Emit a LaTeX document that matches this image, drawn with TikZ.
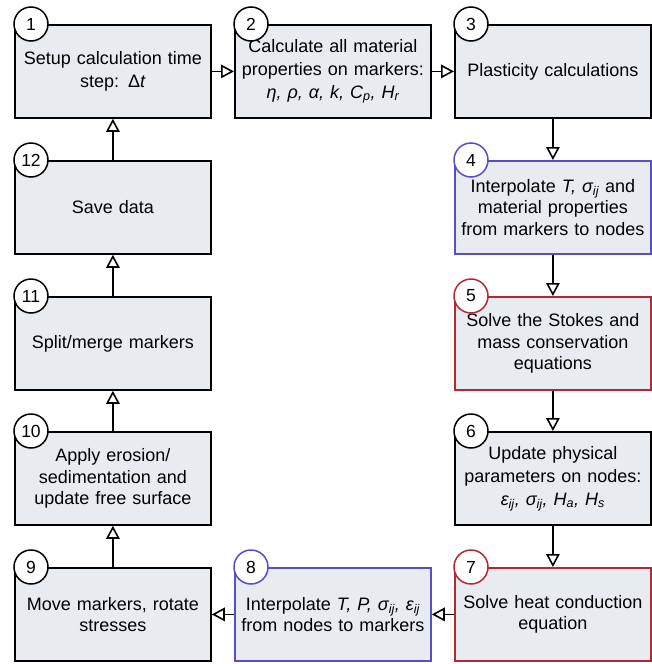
\documentclass[tikz,border=0pt]{standalone}
\usepackage{fontspec}
\setmainfont{Liberation Sans}
\usetikzlibrary{arrows.meta}
\definecolor{boxfill}{RGB}{232,235,240}
\definecolor{bblue}{RGB}{88,78,200}
\definecolor{bred}{RGB}{178,40,52}
\begin{document}
\begin{tikzpicture}[x=1pt,y=-1pt,
  stepbox/.style={draw=#1, fill=boxfill, line width=1.8pt, minimum width=196pt, minimum height=93pt,
    text width=194pt, align=center, inner sep=0pt, font=\fontsize{18}{21.5}\selectfont, anchor=north west},
  stepbox/.default=black,
  numcirc/.style={draw=#1, fill=white, circle, line width=1.5pt, minimum size=34pt, inner sep=0pt,
    font=\fontsize{17.5}{17.5}\selectfont},
  numcirc/.default=black,
  flow/.style={line width=1.7pt, -{Triangle[open,length=13pt,width=13.5pt,line width=1.6pt]}}
]
\useasboundingbox (0,0) rectangle (652,664);

% boxes
\node[stepbox, font=\fontsize{18}{23}\selectfont] (b1) at (14,24) {Setup calculation time\\ step: Δ\textit{t}};
\node[stepbox, font=\fontsize{18}{23}\selectfont] (b2) at (234,24) {Calculate all material\\ properties on markers:\\ \textit{η, ρ, α, k, C\textsubscript{p}, H\textsubscript{r}}};
\node[stepbox] (b3) at (454,24) {Plasticity calculations};
\node[stepbox=bblue] (b4) at (454,160) {Interpolate \textit{T, σ\textsubscript{ij}} and\\ material properties\\ from markers to nodes};
\node[stepbox=bred] (b5) at (454,296) {Solve the Stokes and\\ mass conservation\\ equations};
\node[stepbox, font=\fontsize{18}{23}\selectfont] (b6) at (454,431) {Update physical\\ parameters on nodes:\\ \textit{ε\textsubscript{ij}, σ\textsubscript{ij}, H\textsubscript{a}, H\textsubscript{s}}};
\node[stepbox=bred] (b7) at (454,567) {Solve heat conduction\\ equation};
\node[stepbox=bblue] (b8) at (234,567) {Interpolate \textit{T, P, σ\textsubscript{ij}, ε\textsubscript{ij}}\\ from nodes to markers};
\node[stepbox] (b9) at (14,567) {Move markers, rotate\\ stresses};
\node[stepbox] (b10) at (14,431) {Apply erosion/\\ sedimentation and\\ update free surface};
\node[stepbox] (b11) at (14,296) {Split/merge markers};
\node[stepbox] (b12) at (14,160) {Save data};

% number circles
\node[numcirc] (c1) at ([xshift=17pt]b1.north west) {1};
\node[numcirc] (c2) at ([xshift=17pt]b2.north west) {2};
\node[numcirc] (c3) at ([xshift=17pt]b3.north west) {3};
\node[numcirc=bblue] (c4) at ([xshift=17pt]b4.north west) {4};
\node[numcirc=bred] (c5) at ([xshift=17pt]b5.north west) {5};
\node[numcirc] (c6) at ([xshift=17pt]b6.north west) {6};
\node[numcirc=bred] (c7) at ([xshift=17pt]b7.north west) {7};
\node[numcirc=bblue] (c8) at ([xshift=17pt]b8.north west) {8};
\node[numcirc] (c9) at ([xshift=17pt]b9.north west) {9};
\node[numcirc] (c10) at ([xshift=17pt]b10.north west) {10};
\node[numcirc] (c11) at ([xshift=17pt]b11.north west) {11};
\node[numcirc] (c12) at ([xshift=17pt]b12.north west) {12};

% connectors
\draw[flow] (b1.east) -- (b2.west);
\draw[flow] (b2.east) -- (b3.west);
\draw[flow] (b3.south) -- (b4.north);
\draw[flow] (b4.south) -- (b5.north);
\draw[flow] (b5.south) -- (b6.north);
\draw[flow] (b6.south) -- (b7.north);
\draw[flow] (b7.west) -- (b8.east);
\draw[flow] (b8.west) -- (b9.east);
\draw[flow] (b9.north) -- (b10.south);
\draw[flow] (b10.north) -- (b11.south);
\draw[flow] (b11.north) -- (b12.south);
\draw[flow] (b12.north) -- (b1.south);
\end{tikzpicture}
\end{document}
